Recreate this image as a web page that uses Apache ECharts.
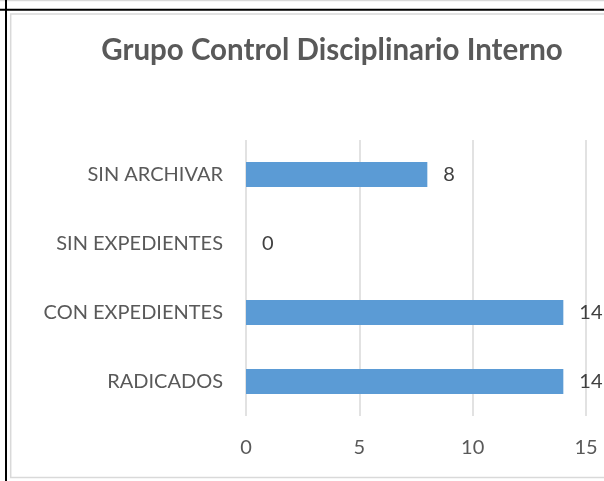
<!DOCTYPE html>
<html>
<head>
<meta charset="utf-8">
<script src="https://cdn.jsdelivr.net/npm/echarts@6/dist/echarts.min.js"></script>
<style>
  html, body { margin: 0; padding: 0; background: #fff; }
  #chart { width: 604px; height: 481px; }
</style>
</head>
<body>
<div id="chart"></div>
<script>
// datos del grafico (de abajo hacia arriba)
var categorias = ['RADICADOS', 'CON EXPEDIENTES', 'SIN EXPEDIENTES', 'SIN ARCHIVAR'];
var valores = [14, 14, 0, 8];
var ejeMin = 0, ejeMax = 15, ejeIntervalo = 5;

var chart = echarts.init(document.getElementById('chart'));
var gris = '#595959';

var option = {
    backgroundColor: '#fff',
    animation: false,
    title: {
        text: 'Grupo Control Disciplinario Interno',
        left: 327,
        top: 30,
        textAlign: 'center',
        textStyle: { fontFamily: 'Lato', fontWeight: 'bold', fontSize: 29.5, color: gris }
    },
    grid: { left: 246, right: 18, top: 140, bottom: 65 },
    xAxis: {
        type: 'value',
        min: ejeMin,
        max: ejeMax,
        interval: ejeIntervalo,
        axisLine: { show: false },
        axisTick: { show: false },
        axisLabel: { fontFamily: 'Lato', fontSize: 20, color: gris, margin: 22 },
        splitLine: { lineStyle: { color: '#D9D9D9', width: 1.5 } }
    },
    yAxis: {
        type: 'category',
        data: categorias,
        axisLine: { show: false },
        axisTick: { show: false },
        axisLabel: { fontFamily: 'Lato', fontSize: 20, color: gris, margin: 23 }
    },
    series: [{
        type: 'bar',
        data: valores,
        barWidth: 25,
        itemStyle: { color: '#5B9BD5' },
        label: {
            show: true,
            position: 'right',
            distance: 16,
            fontFamily: 'Lato',
            fontSize: 20,
            color: '#404040'
        }
    }],
    graphic: [
        // marco exterior e interior
        { type: 'line', shape: { x1: 0, y1: 0.5, x2: 604, y2: 0.5 }, style: { stroke: '#D9D9D9', lineWidth: 1.5 } },
        { type: 'line', shape: { x1: 0, y1: 9.8, x2: 604, y2: 9.8 }, style: { stroke: '#000', lineWidth: 2 } },
        { type: 'line', shape: { x1: 6, y1: 0, x2: 6, y2: 481 }, style: { stroke: '#000', lineWidth: 2 } },
        { type: 'rect', shape: { x: 10.7, y: 14, width: 610, height: 463.5 }, style: { fill: 'none', stroke: '#D9D9D9', lineWidth: 1.5 } }
    ]
};
chart.setOption(option);
</script>
</body>
</html>
